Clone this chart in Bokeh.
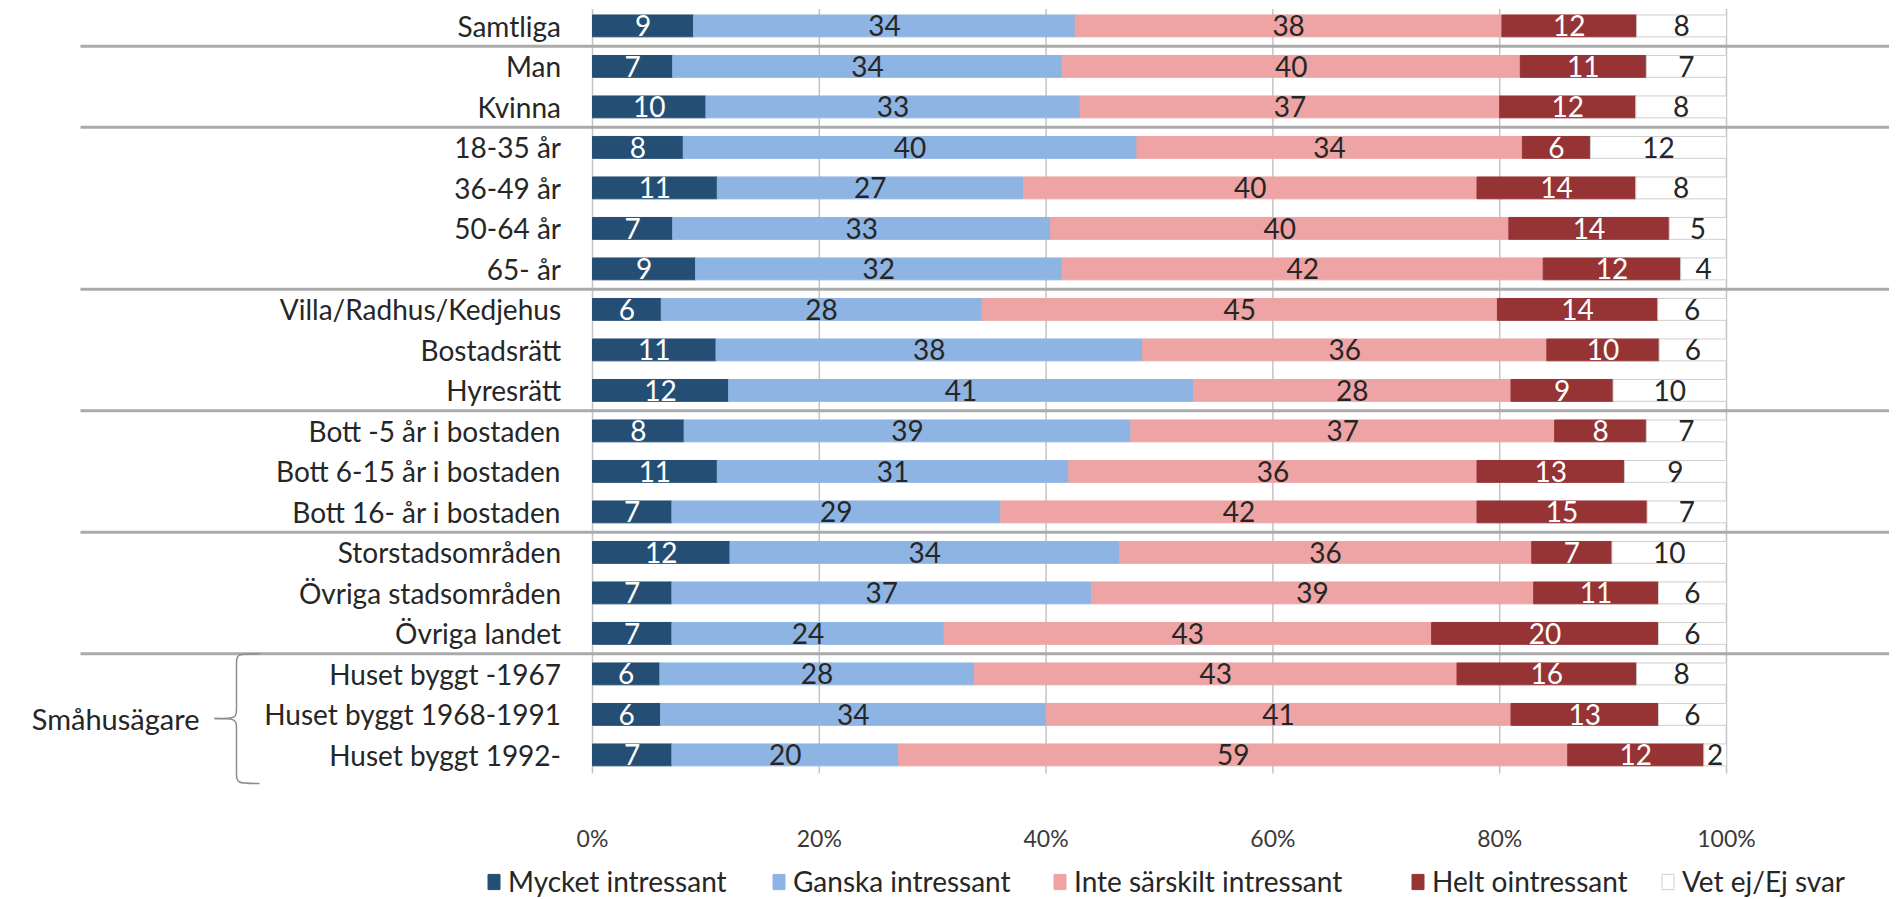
import numpy as np
from bokeh.plotting import figure
from bokeh.layouts import column
from bokeh.models import ColumnDataSource, Range1d, FixedTicker, Legend, LegendItem
from bokeh.core.properties import value
from bokeh.embed import file_html
from bokeh.resources import INLINE

# ---------------- data ----------------
categories = [
    "Samtliga", "Man", "Kvinna",
    "18-35 år", "36-49 år", "50-64 år", "65- år",
    "Villa/Radhus/Kedjehus", "Bostadsrätt", "Hyresrätt",
    "Bott -5 år i bostaden", "Bott 6-15 år i bostaden", "Bott 16- år i bostaden",
    "Storstadsområden", "Övriga stadsområden", "Övriga landet",
    "Huset byggt -1967", "Huset byggt 1968-1991", "Huset byggt 1992-",
]
mycket = [9, 7, 10, 8, 11, 7, 9, 6, 11, 12, 8, 11, 7, 12, 7, 7, 6, 6, 7]
ganska = [34, 34, 33, 40, 27, 33, 32, 28, 38, 41, 39, 31, 29, 34, 37, 24, 28, 34, 20]
inte = [38, 40, 37, 34, 40, 40, 42, 45, 36, 28, 37, 36, 42, 36, 39, 43, 43, 41, 59]
helt = [12, 11, 12, 6, 14, 14, 12, 14, 10, 9, 8, 13, 15, 7, 11, 20, 16, 13, 12]
vetej = [8, 7, 8, 12, 8, 5, 4, 6, 6, 10, 7, 9, 7, 10, 6, 6, 8, 6, 2]

series_names = ["Mycket intressant", "Ganska intressant", "Inte särskilt intressant",
                "Helt ointressant", "Vet ej/Ej svar"]
tick_values = [0, 20, 40, 60, 80, 100]
tick_labels = ["0%", "20%", "40%", "60%", "80%", "100%"]
group_breaks_after = ["Samtliga", "Kvinna", "65- år", "Hyresrätt",
                      "Bott 16- år i bostaden", "Övriga landet"]
bracket_label = "Småhusägare"
bracket_rows = ["Huset byggt -1967", "Huset byggt 1968-1991", "Huset byggt 1992-"]

# ---------------- styles ----------------
colors = ["#254e74", "#8db4e2", "#eea4a4", "#953335", "#ffffff"]
line_colors = ["#254e74", "#8db4e2", "#eea4a4", "#953335", "#cfcfcf"]
label_colors = ["#ffffff", "#262626", "#262626", "#ffffff", "#262626"]
legend_x = [486, 771, 1052, 1410, 1660]   # pixel left edge of each legend entry
FONT = "Lato"
TXT = "#262626"
FS = "28px"

# layout mapping (page pixels -> data units)
PX0, PX100 = 592.0, 1726.0
PPU = (PX100 - PX0) / 100.0
ROW0, ROWSTEP = 25.4, 40.5
def dx(px):
    return (px - PX0) / PPU
def dy(py):
    return (py - ROW0) / ROWSTEP

FRAME_W, FRAME_H = 1889, 803

# ---------------- derived table (100% stacked) ----------------
raw = np.array([mycket, ganska, inte, helt, vetej], dtype=float)
totals = raw.sum(axis=0)
shares = raw / totals * 100.0
keys = ["s0", "s1", "s2", "s3", "s4"]
ys = list(range(len(categories)))
data = {"y": ys}
for k, row in zip(keys, shares):
    data[k] = row
source = ColumnDataSource(data)

p = figure(frame_width=FRAME_W, frame_height=FRAME_H,
           x_range=Range1d(dx(0), dx(FRAME_W)),
           y_range=Range1d(dy(FRAME_H), dy(0)),
           output_backend="svg", toolbar_location=None,
           min_border=0, y_axis_location=None)
p.outline_line_color = None
p.xgrid.visible = False
p.ygrid.visible = False
p.background_fill_color = "white"
p.border_fill_color = "white"

# vertical grid lines
p.segment(x0=tick_values, x1=tick_values, y0=[-0.42] * 6, y1=[18.46] * 6,
          line_color="#c4c4c4", line_width=1.5)

# bars
renderers = p.hbar_stack(keys, y="y", height=0.54, source=source,
                         fill_color=colors, line_color=line_colors, line_width=1)

# group separators
sep_y = [categories.index(c) + 0.5 for c in group_breaks_after]
p.segment(x0=[dx(80)] * len(sep_y), x1=[dx(1897)] * len(sep_y), y0=sep_y, y1=sep_y,
          line_color="#aaaaaa", line_width=3)

# data labels
lx, ly, lt, lc = [], [], [], []
cum = np.zeros(len(categories))
for si in range(5):
    for i in range(len(categories)):
        lx.append(cum[i] + shares[si][i] / 2.0)
        ly.append(i)
        lt.append(str(int(raw[si][i])))
        lc.append(label_colors[si])
    cum = cum + shares[si]
p.text(x=lx, y=ly, text=lt, text_color=lc, text_align="center", text_baseline="middle",
       text_font=value(FONT), text_font_size=FS)

# row labels
p.text(x=[dx(560.5)] * len(categories), y=ys, text=categories, text_align="right",
       text_baseline="middle", text_font=value(FONT), text_font_size=FS, text_color=TXT)

# bracket
b_top = categories.index(bracket_rows[0]) - 0.5
b_bot = dy(783)
b_mid = (b_top + b_bot) / 2.0
xe, xv, xt = dx(259), dx(236), dx(214)
r = 0.3
p.bezier(x0=[xe, xv, xv, xv], y0=[b_top, b_mid - r, b_mid + r, b_bot - r],
         x1=[xv, xt, xt, xe], y1=[b_top + r, b_mid, b_mid, b_bot],
         cx0=[xv, xv, xv, xv], cy0=[b_top, b_mid, b_mid, b_bot],
         cx1=[xv, xv, xv, xv], cy1=[b_top, b_mid, b_mid, b_bot],
         line_color="#8c8c8c", line_width=1.5)
p.segment(x0=[xv, xv], x1=[xv, xv], y0=[b_top + r, b_mid + r], y1=[b_mid - r, b_bot - r],
          line_color="#8c8c8c", line_width=1.5)
p.text(x=[dx(199)], y=[b_mid], text=[bracket_label], text_align="right",
       text_baseline="middle", text_font=value(FONT), text_font_size="29px", text_color=TXT)

# x axis
ax = p.xaxis[0]
ax.ticker = FixedTicker(ticks=tick_values)
ax.major_label_overrides = {v: l for v, l in zip(tick_values, tick_labels)}
ax.axis_line_color = None
ax.major_tick_line_color = None
ax.minor_tick_line_color = None
ax.major_tick_out = 0
ax.major_tick_in = 0
ax.major_label_standoff = 20
ax.major_label_text_font = FONT
ax.major_label_text_font_size = "23px"
ax.major_label_text_color = "#3a3a3a"

# legend (separate strip below the chart)
pl = figure(frame_width=FRAME_W, frame_height=44,
            x_range=Range1d(0, 1), y_range=Range1d(0, 1),
            output_backend="svg", toolbar_location=None, min_border=0,
            x_axis_location=None, y_axis_location=None)
pl.outline_line_color = None
pl.xgrid.visible = False
pl.ygrid.visible = False
pl.background_fill_color = "white"
pl.border_fill_color = "white"
# proxy renderers for the legend keys (placed far outside the visible range)
leg_renderers = [pl.hbar(y=[-50], left=[-60], right=[-55], height=0.5,
                         fill_color=c, line_color=lc_)
                 for c, lc_ in zip(colors, line_colors)]
for name, rr, lxp in zip(series_names, leg_renderers, legend_x):
    lg = Legend(items=[LegendItem(label=name, renderers=[rr])], location=(lxp, 0),
                label_text_font=FONT, label_text_font_size=FS, label_text_color=TXT,
                glyph_width=15, glyph_height=19, label_standoff=7,
                padding=0, margin=0, border_line_color=None, background_fill_alpha=0)
    pl.add_layout(lg, "center")

layout = column(p, pl, spacing=0)
open("out.html", "w").write(file_html(layout, INLINE))
